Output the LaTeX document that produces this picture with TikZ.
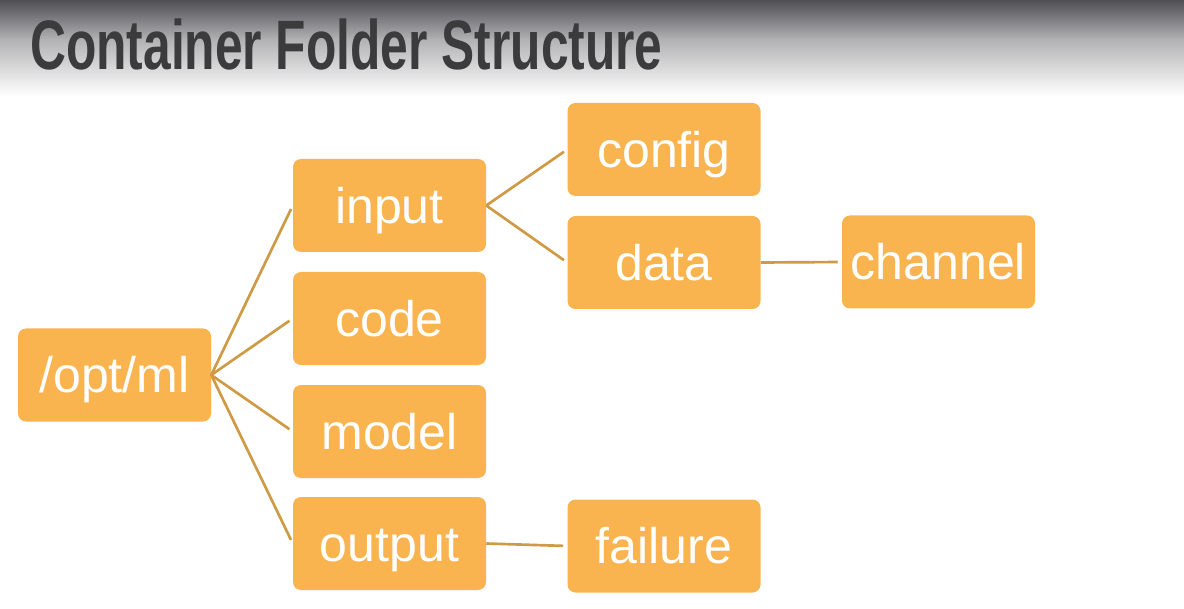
\documentclass[tikz,border=0pt]{standalone}
\usepackage{fontspec}
\setmainfont{Liberation Sans}
\usepackage{graphicx}
\definecolor{boxfill}{HTML}{FAB44F}
\definecolor{linkcol}{HTML}{CF9A45}
\definecolor{titlecol}{HTML}{3B3B3E}
\definecolor{bartop}{HTML}{4E4E54}
\definecolor{barmid}{HTML}{B3B3B5}
\tikzset{
  folder/.style={rectangle, rounded corners=6pt, fill=boxfill, draw=none,
    minimum width=144.75pt, minimum height=69.75pt, inner sep=0pt,
    text=white, font=\fontsize{37.5}{40}\selectfont,
    text height=26.8pt, text depth=0pt},
  link/.style={draw=linkcol, line width=2pt, shorten >=3pt}
}
\begin{document}
\begin{tikzpicture}[x=0.75pt,y=-0.75pt]
\useasboundingbox (0,0) rectangle (1184,609);
\fill[white] (0,0) rectangle (1184,609);
\shade[top color=bartop, bottom color=barmid] (0,0) rectangle (1184,40);
\shade[top color=barmid, bottom color=white] (0,40) rectangle (1184,96);
\node[anchor=base west, inner sep=0pt, text=titlecol] (title) at (30,70)
  {\scalebox{0.71}[1]{\fontsize{52.5}{60}\selectfont\bfseries Container Folder Structure}};

\node[folder] (opt) at (114.5,375) {/opt/ml};
\node[folder] (input) at (389.5,205.5) {input};
\node[folder] (code) at (389.5,318.5) {code};
\node[folder] (model) at (389.5,431.5) {model};
\node[folder] (output) at (389.5,543.5) {output};
\node[folder] (config) at (664,149.5) {config};
\node[folder] (data) at (664,262.5) {data};
\node[folder] (channel) at (938.5,262) {channel};
\node[folder] (failure) at (664,546) {failure};

\draw[link] (opt.east) -- (input.west);
\draw[link] (opt.east) -- (code.west);
\draw[link] (opt.east) -- (model.west);
\draw[link] (opt.east) -- (output.west);
\draw[link] (input.east) -- (config.west);
\draw[link] (input.east) -- (data.west);
\draw[link] (data.east) -- (channel.west);
\draw[link] (output.east) -- (failure.west);
\end{tikzpicture}
\end{document}
